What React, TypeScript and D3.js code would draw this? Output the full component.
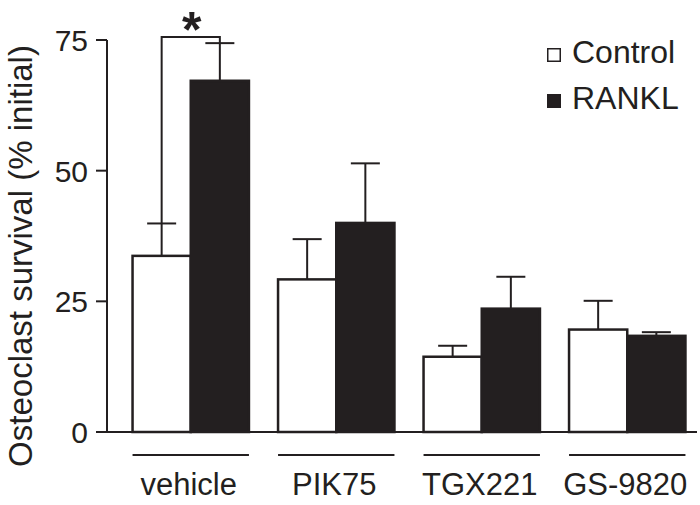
import React from "react";
import * as d3 from "d3";

const categories = ["vehicle", "PIK75", "TGX221", "GS-9820"];
const seriesNames = ["Control", "RANKL"];
const controlValues = [33.7, 29.2, 14.4, 19.6];
const controlErrors = [6.2, 7.7, 2.1, 5.5];
const ranklValues = [67.2, 40.0, 23.6, 18.4];
const ranklErrors = [7.2, 11.4, 6.1, 0.7];
const yTicks = [0, 25, 50, 75];

const INK = "#231f20";
const FONT = "'Liberation Sans', Arial, Helvetica, sans-serif";

export default function App() {
  const W = 700, H = 505;
  const y = d3.scaleLinear().domain([0, 75]).range([432, 40]);
  const x0 = d3.scaleBand<string>().domain(categories).range([118, 700]).paddingInner(0.2).paddingOuter(0.1);
  const x1 = d3.scaleBand<string>().domain(seriesNames).range([0, x0.bandwidth()]);
  const axisX = 107;

  const series = [
    { name: "Control", values: controlValues, errors: controlErrors, fill: "#fff" },
    { name: "RANKL", values: ranklValues, errors: ranklErrors, fill: INK },
  ];

  const capHalf = 14.5;
  const vc = x0("vehicle")! + x1("Control")! + x1.bandwidth() / 2;
  const vr = x0("vehicle")! + x1("RANKL")! + x1.bandwidth() / 2;
  const bracketY = 37;

  return (
    <svg width={W} height={H} style={{ position: "absolute", left: 0, top: 0, background: "#fff" }}>
      <rect x={0} y={0} width={W} height={H} fill="#fff" />
      {series.map((s) =>
        categories.map((c, i) => {
          const bx = x0(c)! + x1(s.name)!;
          const bw = x1.bandwidth();
          const cx = bx + bw / 2;
          const top = y(s.values[i]);
          const et = y(s.values[i] + s.errors[i]);
          return (
            <g key={s.name + c}>
              <line x1={cx} x2={cx} y1={top} y2={et} stroke={INK} strokeWidth={2} />
              <line x1={cx - capHalf} x2={cx + capHalf} y1={et} y2={et} stroke={INK} strokeWidth={2} />
              <rect x={bx} y={top} width={bw} height={y(0) - top} fill={s.fill} stroke={INK} strokeWidth={2.5} />
            </g>
          );
        })
      )}
      <line x1={axisX} x2={axisX} y1={y(75)} y2={y(0)} stroke={INK} strokeWidth={2} />
      {yTicks.map((t) => (
        <g key={t}>
          <line x1={96} x2={axisX} y1={y(t)} y2={y(t)} stroke={INK} strokeWidth={2} />
          <text x={88} y={y(t) + 11} textAnchor="end" fontFamily={FONT} fontSize={30} fill={INK}>
            {t}
          </text>
        </g>
      ))}
      <line x1={96} x2={697} y1={y(0)} y2={y(0)} stroke={INK} strokeWidth={2} />
      {categories.map((c) => {
        const sx = x0(c)!;
        const cx = sx + x0.bandwidth() / 2;
        return (
          <g key={c}>
            <line x1={sx} x2={sx + x0.bandwidth()} y1={455} y2={455} stroke={INK} strokeWidth={2} />
            <text x={cx - 2} y={495} textAnchor="middle" fontFamily={FONT} fontSize={31} fill={INK}>
              {c}
            </text>
          </g>
        );
      })}
      <text
        transform={`translate(32,256) rotate(-90)`}
        textAnchor="middle"
        fontFamily={FONT}
        fontSize={33}
        fill={INK}
      >
        Osteoclast survival (% initial)
      </text>
      <path
        d={`M${vc},${y(controlValues[0] + controlErrors[0])} V${bracketY} H${vr} V${y(ranklValues[0] + ranklErrors[0])}`}
        fill="none"
        stroke={INK}
        strokeWidth={2}
      />
      <text x={(vc + vr) / 2 + 1} y={47} textAnchor="middle" fontFamily={FONT} fontSize={50} fontWeight="bold" fill={INK}>
        *
      </text>
      {series.map((s, i) => (
        <g key={s.name} transform={`translate(547,${48 + i * 46})`}>
          <rect x={0.75} y={0.75} width={12.5} height={12.5} fill={s.fill} stroke={INK} strokeWidth={1.5} />
          <text x={25} y={15} fontFamily={FONT} fontSize={32} fill={INK}>
            {s.name}
          </text>
        </g>
      ))}
    </svg>
  );
}
